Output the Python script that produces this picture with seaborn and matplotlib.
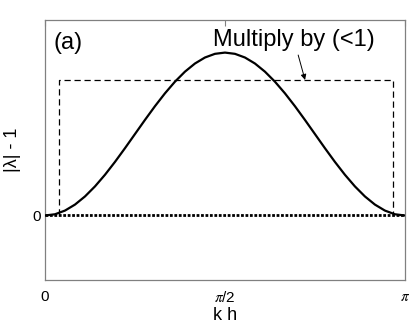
import numpy as np
import pandas as pd
import matplotlib
matplotlib.use("Agg")
import matplotlib.pyplot as plt
import seaborn as sns

# ---- data ----
kh_deg = [0, 5, 10, 15, 20, 25, 30, 35, 40, 45, 50, 55, 60, 65, 70, 75, 80, 85, 90,
          95, 100, 105, 110, 115, 120, 125, 130, 135, 140, 145, 150, 155, 160, 165, 170, 175, 180]
growth = [0.0, 0.0076, 0.0302, 0.067, 0.117, 0.1786, 0.25, 0.329, 0.4132, 0.5, 0.5868,
          0.671, 0.75, 0.8214, 0.883, 0.933, 0.9698, 0.9924, 1.0,
          0.9924, 0.9698, 0.933, 0.883, 0.8214, 0.75, 0.671, 0.5868, 0.5, 0.4132,
          0.329, 0.25, 0.1786, 0.117, 0.067, 0.0302, 0.0076, 0.0]
rect_kh = [0.122, 3.034]   # left / right of dashed box
rect_level = 0.832         # top of dashed box
zero_kh = [0.0, np.pi]
zero_level = [0.0, 0.0]
xtick_vals = [0.0, np.pi / 2, np.pi]
xtick_labels = ["0", r"$\pi$/2", r"$\pi$"]
ytick_vals = [0.0]
ytick_labels = ["0"]

df = pd.DataFrame({"kh": np.deg2rad(kh_deg), "g": growth})

sns.set_style("white")
plt.rcParams["font.family"] = ["Liberation Sans", "DejaVu Sans"]
plt.rcParams["mathtext.fontset"] = "stix"
plt.rcParams["text.color"] = "black"
plt.rcParams["axes.labelcolor"] = "black"
plt.rcParams["xtick.labelcolor"] = "black"
plt.rcParams["ytick.labelcolor"] = "black"

fig = plt.figure(figsize=(4.09, 3.27), dpi=100)
ax = fig.add_axes([0.110, 0.1437, 0.880, 0.7951])

# dashed box
bx = [rect_kh[0], rect_kh[0], rect_kh[1], rect_kh[1]]
by = [0.0, rect_level, rect_level, 0.0]
ax.plot(bx, by, color="black", lw=0.9, ls=(0, (5, 3)), zorder=2)

# zero dotted line
ax.plot(zero_kh, zero_level, color="black", lw=2.0, ls=(0, (1, 0.6)), zorder=3)

# curve
sns.lineplot(data=df, x="kh", y="g", ax=ax, color="black", lw=1.6, zorder=4)

ax.set_xlim(0, np.pi)
ax.set_ylim(-0.396, 1.20)
ax.set_xticks(xtick_vals)
ax.set_xticklabels(xtick_labels, fontsize=11, color="black")
ax.set_yticks(ytick_vals)
ax.set_yticklabels(ytick_labels, fontsize=11, color="black")
ax.tick_params(direction="in", length=4, width=0.8, color="#808080",
               top=True, right=True, pad=7)
ax.tick_params(axis="y", pad=3)
for s in ax.spines.values():
    s.set_color("#808080")
    s.set_linewidth(0.9)

ax.set_xlabel("k h", fontsize=13, color="black")
ax.xaxis.set_label_coords(0.5, -0.105)
ax.set_ylabel("|λ| - 1", fontsize=13, labelpad=8, color="black")

ax.text(0.025, 0.955, "(a)", transform=ax.transAxes, fontsize=17,
        ha="left", va="top", color="black")
ax.text(0.917, 0.965, "Multiply by (<1)", transform=ax.transAxes, fontsize=17,
        ha="right", va="top", color="black")
ax.annotate("", xy=(2.27, rect_level), xytext=(2.21, 0.985),
            arrowprops=dict(arrowstyle="-|>", color="black", lw=0.7,
                            mutation_scale=8, shrinkA=0, shrinkB=0))

fig.savefig("out.png", dpi=100)
